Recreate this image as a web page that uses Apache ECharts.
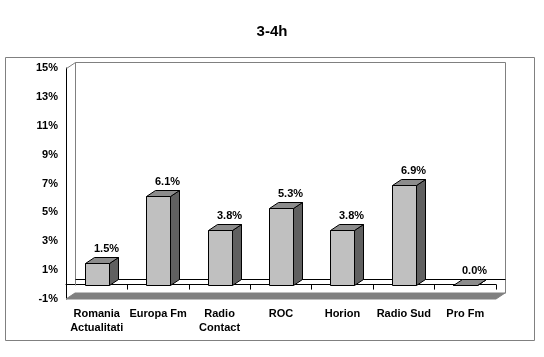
<!DOCTYPE html>
<html>
<head>
<meta charset="utf-8">
<script src="https://cdn.jsdelivr.net/npm/echarts@6/dist/echarts.min.js"></script>
<style>html,body{margin:0;padding:0;background:#fff;}#c{width:544px;height:357px;}</style>
</head>
<body>
<div id="c"></div>
<script>
var titleText = '3-4h';
var categories = ['Romania\nActualitati', 'Europa Fm', 'Radio\nContact', 'ROC', 'Horion', 'Radio Sud', 'Pro Fm'];
var values = [1.5, 6.1, 3.8, 5.3, 3.8, 6.9, 0.0];
var yMin = -1, yMax = 15, yStep = 2;

var DX = 9, DY = -6;
var FONT = '"Liberation Sans", Arial, sans-serif';

function r(v){ return Math.round(v) + 0.5; }

function renderFrame(params, api) {
  var cs = params.coordSys;
  var L = cs.x, R = cs.x + cs.width;
  var yTop = api.coord([0, yMax])[1];
  var y0 = api.coord([0, 0])[1];
  var yM1 = api.coord([0, yMin])[1];
  var gray = '#808080';
  return {
    type: 'group',
    children: [
      { type: 'polygon', shape: { points: [[L, yM1], [R, yM1], [R + DX, yM1 + DY], [L + DX, yM1 + DY]] },
        style: { fill: '#808080', stroke: '#808080', lineWidth: 1 } },
      { type: 'line', shape: { x1: r(L + DX), y1: r(yTop + DY), x2: r(R + DX), y2: r(yTop + DY) }, style: { stroke: gray, lineWidth: 1 } },
      { type: 'line', shape: { x1: r(L + DX), y1: r(yTop + DY), x2: r(L + DX), y2: r(y0) }, style: { stroke: gray, lineWidth: 1 } },
      { type: 'line', shape: { x1: r(R + DX), y1: r(yTop + DY), x2: r(R + DX), y2: r(yM1 + DY) }, style: { stroke: gray, lineWidth: 1 } },
      { type: 'line', shape: { x1: r(L), y1: r(yTop), x2: r(L + DX), y2: r(yTop + DY) }, style: { stroke: gray, lineWidth: 1 } },
      { type: 'line', shape: { x1: r(L + DX), y1: r(y0 + DY), x2: r(R + DX), y2: r(y0 + DY) }, style: { stroke: '#000', lineWidth: 1 } }
    ]
  };
}

function renderBar(params, api) {
  var idx = api.value(0);
  var v = api.value(1);
  var top = api.coord([idx, v]);
  var base = api.coord([idx, 0]);
  var bw = api.size([1, 0])[0] * 0.39;
  var x0 = Math.round(top[0] - bw / 2) + 0.5, x1 = Math.round(top[0] + bw / 2) + 0.5;
  var yT = Math.round(top[1]) + 0.5, yB = Math.round(base[1]) + 0.5;
  var st = { stroke: '#000', lineWidth: 1 };
  return {
    type: 'group',
    children: [
      { type: 'polygon', shape: { points: [[x1, yT], [x1 + DX, yT + DY], [x1 + DX, yB + DY], [x1, yB]] },
        style: Object.assign({ fill: '#606060' }, st) },
      { type: 'polygon', shape: { points: [[x0, yT], [x1, yT], [x1 + DX, yT + DY], [x0 + DX, yT + DY]] },
        style: Object.assign({ fill: '#8c8c8c' }, st) },
      { type: 'rect', shape: { x: x0, y: yT, width: x1 - x0, height: yB - yT },
        style: Object.assign({ fill: '#c0c0c0' }, st) },
      { type: 'text', x: (x0 + x1) / 2 + DX, y: yT + DY - 3,
        style: { text: v.toFixed(1) + '%', fill: '#000', font: 'bold 11px ' + FONT, align: 'center', verticalAlign: 'bottom' } }
    ]
  };
}

var chart = echarts.init(document.getElementById('c'), null, { renderer: 'canvas' });
chart.setOption({
  animation: false,
  backgroundColor: '#fff',
  title: {
    text: titleText, left: 'center', top: 19,
    textStyle: { fontFamily: FONT, fontWeight: 'bold', fontSize: 15, color: '#000' }
  },
  graphic: [
    { type: 'rect', shape: { x: 5.5, y: 57.5, width: 529, height: 283 }, style: { fill: 'none', stroke: '#808080', lineWidth: 1 }, z: -1 }
  ],
  grid: { left: 66, right: 48, top: 68, bottom: 58 },
  xAxis: {
    type: 'category',
    data: categories,
    axisLine: { onZero: true, lineStyle: { color: '#000', width: 1 } },
    axisTick: { show: true, length: 5, lineStyle: { color: '#000' } },
    axisLabel: { margin: 8, color: '#000', fontFamily: FONT, fontWeight: 'bold', fontSize: 11, lineHeight: 14, interval: 0 }
  },
  yAxis: {
    type: 'value', min: yMin, max: yMax, interval: yStep,
    axisLine: { show: true, lineStyle: { color: '#000', width: 1 } },
    axisTick: { show: false },
    splitLine: { show: false },
    axisLabel: { margin: 8, color: '#000', fontFamily: FONT, fontWeight: 'bold', fontSize: 11, formatter: '{value}%' }
  },
  series: [
    { type: 'custom', z: 1, renderItem: renderFrame, data: [[0, 0]], silent: true },
    { type: 'custom', z: 3, renderItem: renderBar, data: values.map(function (v, i) { return [i, v]; }) }
  ]
});
</script>
</body>
</html>
